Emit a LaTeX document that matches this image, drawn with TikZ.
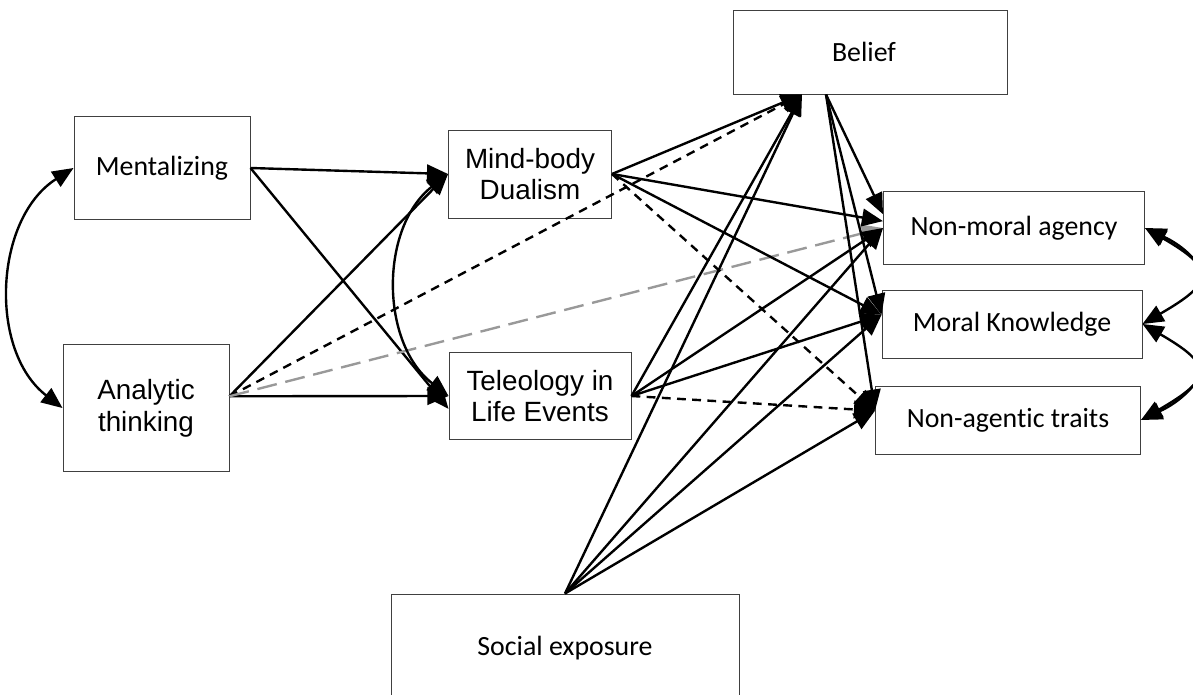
\documentclass[tikz,border=0pt]{standalone}
\usepackage{fontspec}
\setmainfont{Carlito}[Ligatures=NoCommon]
\newfontfamily\arialfont{Liberation Sans}
\usetikzlibrary{arrows.meta,positioning}

\begin{document}
\begin{tikzpicture}[on grid,
	box/.style={draw=black!75,line width=0.7pt,align=center,inner sep=0pt,font=\fontsize{19.8}{22.5}\selectfont},
	arr/.style={line width=1.7pt,-{Triangle[length=15pt,width=12.5pt]}},
	twoway/.style={line width=1.7pt,{Triangle[length=15pt,width=12.5pt]}-{Triangle[length=15pt,width=12.5pt]}},
	dashedline/.style={dash pattern=on 0.22cm off 0.16cm},
	grayline/.style={draw=black!40,dash pattern=on 0.5cm off 0.22cm}]
	\useasboundingbox (0,0) rectangle (29.825,-17.35);
	\node[box,minimum width=4.4cm,minimum height=2.575cm] (ment) at (4.05,-4.2) {Mentalizing};
	\node[box,minimum width=4.15cm,minimum height=3.175cm] (anal) [below left=6cm and 0.4cm of ment] {\arialfont Analytic\\\arialfont thinking};
	\node[box,minimum width=4.075cm,minimum height=2.2cm] (mind) [below right=0.15cm and 9.2cm of ment] {\arialfont Mind-body\\\arialfont Dualism};
	\node[box,minimum width=4.55cm,minimum height=2.175cm] (tele) [below right=5.55cm and 0.25cm of mind] {\arialfont Teleology in\\\arialfont Life Events};
	\node[box,minimum width=6.85cm,minimum height=2.1cm] (belief) [above right=3.05cm and 8.5cm of mind] {Belief\hspace*{0.3cm}};
	\node[box,minimum width=6.525cm,minimum height=1.825cm] (nma) [below right=4.4cm and 3.6cm of belief] {Non-moral agency};
	\node[box,minimum width=6.5cm,minimum height=1.7cm] (mk) [below left=2.4cm and 0.05cm of nma] {Moral Knowledge};
	\node[box,minimum width=6.625cm,minimum height=1.7cm] (nat) [below left=2.4cm and 0.1cm of mk] {Non-agentic traits};
	\node[box,minimum width=8.7cm,minimum height=2.7cm] (soc) [below right=6.3cm and 0.625cm of tele] {Social exposure};
	\path[arr]
	(ment.east) edge (mind.west)
	            edge (tele.188)
	(anal.8)    edge (mind.west)
	            edge (tele.west)
	            edge [dashedline] (belief.212)
	            edge [grayline] (nma.west)
	(mind.east) edge (belief.212)
	            edge (nma.177)
	            edge (mk.176)
	            edge [dashedline] (nat.176)
	(tele.east) edge (belief.212)
	            edge (nma.west)
	            edge (mk.176)
	            edge [dashedline] (nat.176)
	(soc.north) edge (belief.212)
	            edge (nma.west)
	            edge (mk.176)
	            edge (nat.176)
	(belief.224) edge (nma.174)
	            edge (mk.176)
	            edge (nat.176);
	\path[twoway]
	(ment.west) edge [bend right=55] (anal.west)
	(mind.west) edge [bend right=52] (tele.west)
	(nma.east)  edge [out=-30,in=30,looseness=2.2] (mk.east)
	            edge [out=-25,in=25,looseness=1.35] (nat.east)
	(mk.east)   edge [out=-30,in=30,looseness=2.2] (nat.east);
\end{tikzpicture}
\end{document}
